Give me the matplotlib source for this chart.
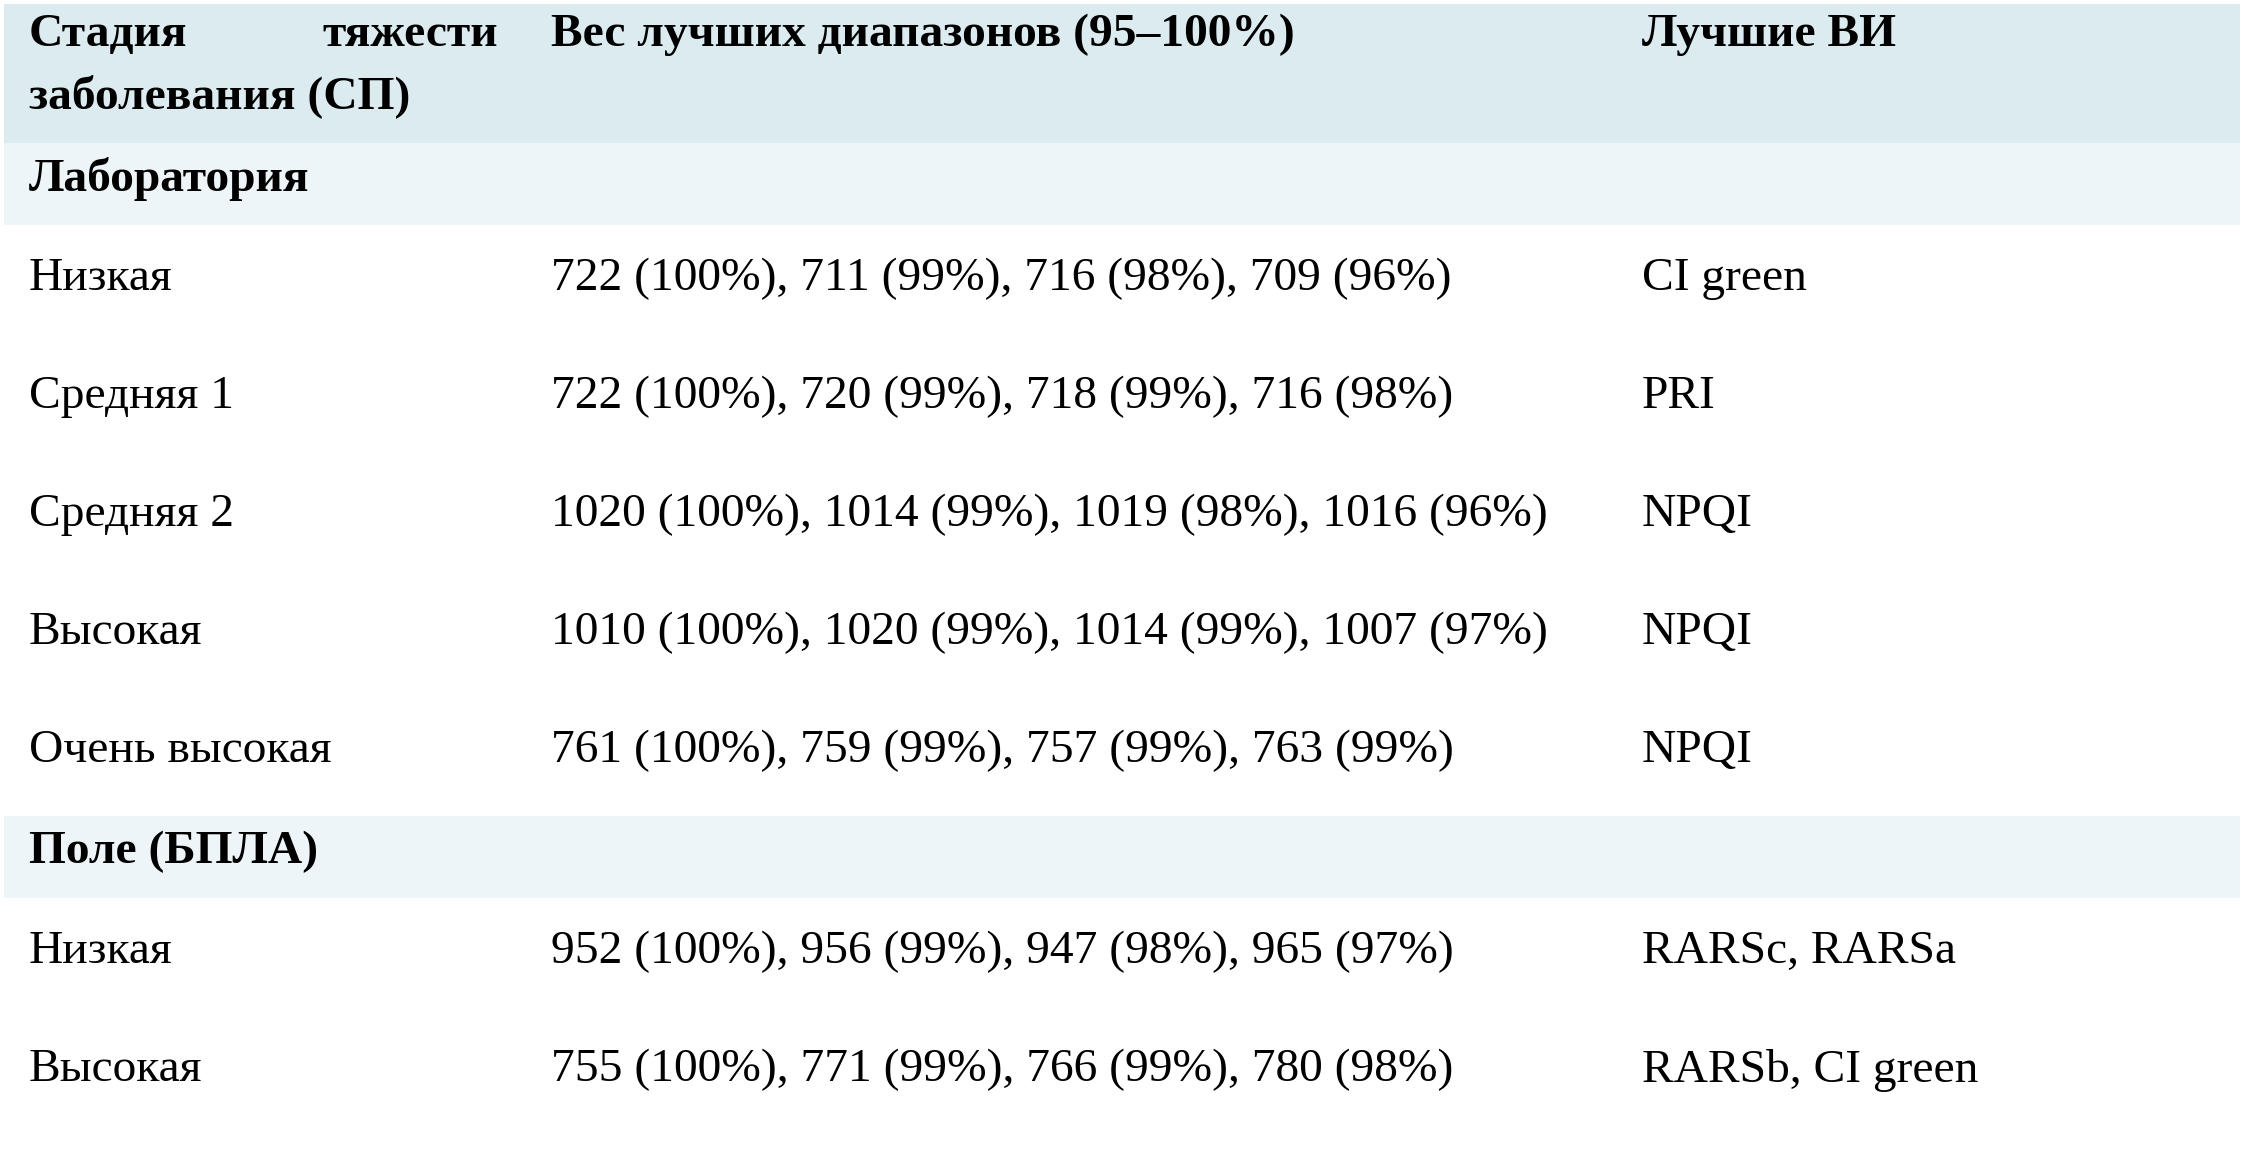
import matplotlib.pyplot as plt
from matplotlib.patches import Rectangle

# Данные таблицы
header_col2 = 'Вес лучших диапазонов (95–100%)'
header_col3 = 'Лучшие ВИ'
sections = ['Лаборатория', 'Поле (БПЛА)']

lab_stages = ['Низкая', 'Средняя 1', 'Средняя 2', 'Высокая', 'Очень высокая']
lab_bands = [
    '722 (100%), 711 (99%), 716 (98%), 709 (96%)',
    '722 (100%), 720 (99%), 718 (99%), 716 (98%)',
    '1020 (100%), 1014 (99%), 1019 (98%), 1016 (96%)',
    '1010 (100%), 1020 (99%), 1014 (99%), 1007 (97%)',
    '761 (100%), 759 (99%), 757 (99%), 763 (99%)',
]
lab_vi = ['CI green', 'PRI', 'NPQI', 'NPQI', 'NPQI']

field_stages = ['Низкая', 'Высокая']
field_bands = [
    '952 (100%), 956 (99%), 947 (98%), 965 (97%)',
    '755 (100%), 771 (99%), 766 (99%), 780 (98%)',
]
field_vi = ['RARSc, RARSa', 'RARSb, CI green']

W, H = 2242, 1172
fig = plt.figure(figsize=(W / 100, H / 100), dpi=100)
ax = fig.add_axes([0, 0, 1, 1])
ax.set_xlim(0, W)
ax.set_ylim(H, 0)
ax.axis('off')

FONT = 'Liberation Serif'
FS = 34.2
X1, X2, X3 = 29, 551, 1642
HEAD_COL = '#dcebf0'
SEC_COL = '#eef5f8'

# шапка
ax.add_patch(Rectangle((4, 4), W - 6, 139, color=HEAD_COL, lw=0))
ax.text(X1, 35, 'Стадия', fontfamily=FONT, fontsize=FS, fontweight='bold', va='center')
ax.text(498, 35, 'тяжести', fontfamily=FONT, fontsize=FS, fontweight='bold', va='center', ha='right')
ax.text(X1, 96, 'заболевания (СП)', fontfamily=FONT, fontsize=FS, fontweight='bold', va='center')
ax.text(X2, 35, header_col2, fontfamily=FONT, fontsize=FS, fontweight='bold', va='center')
ax.text(X3, 35, header_col3, fontfamily=FONT, fontsize=FS, fontweight='bold', va='center')


def draw_section(title, y_top, stages, bands, vi):
    ax.add_patch(Rectangle((4, y_top), W - 6, 82, color=SEC_COL, lw=0))
    ax.text(X1, y_top + 36, title, fontfamily=FONT, fontsize=FS, fontweight='bold', va='center')
    y = y_top + 136
    for s, b, v in zip(stages, bands, vi):
        ax.text(X1, y, s, fontfamily=FONT, fontsize=FS, va='center')
        ax.text(X2, y, b, fontfamily=FONT, fontsize=FS, va='center')
        ax.text(X3, y, v, fontfamily=FONT, fontsize=FS, va='center')
        y += 118


draw_section(sections[0], 143, lab_stages, lab_bands, lab_vi)
draw_section(sections[1], 816, field_stages, field_bands, field_vi)

fig.savefig('out.png', dpi=100, facecolor='white')
